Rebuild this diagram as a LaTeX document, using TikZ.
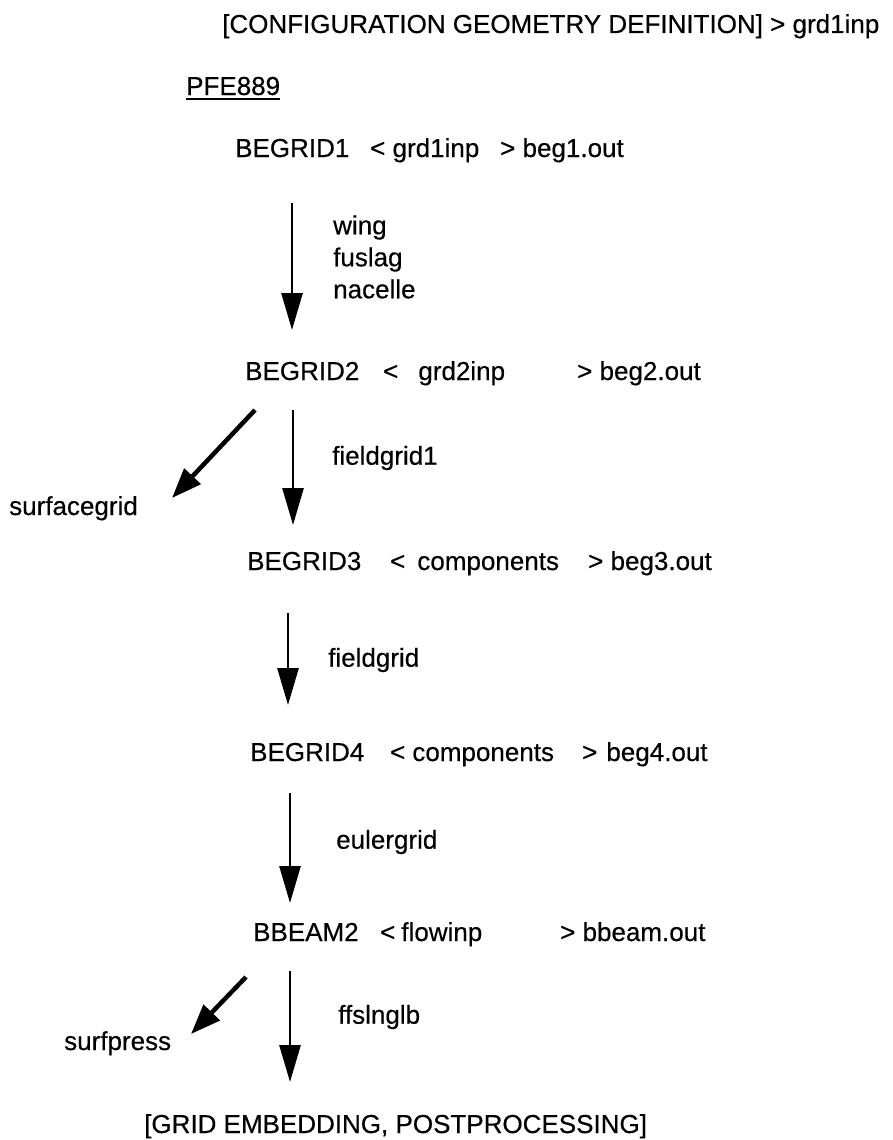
\documentclass[tikz,border=0pt]{standalone}
\usepackage{fontspec}
\setmainfont{Liberation Sans}
\newfontfamily\scanfont[FakeBold=0.4]{Liberation Sans}
\usetikzlibrary{arrows.meta,positioning,calc}

\tikzset{
  prog/.style={anchor=base west, inner sep=0pt, font=\scanfont\fontsize{26}{32}\selectfont},
  lbl/.style={anchor=west, inner sep=0pt, align=left, font=\scanfont\fontsize{26}{32}\selectfont},
  flow/.style={-{Triangle[length=37pt,width=21pt]}, line width=2.8pt},
  side/.style={-{Triangle[length=30pt,width=22pt]}, line width=4.5pt},
}

\begin{document}
\begin{tikzpicture}[x=1pt,y=-1pt]
  \useasboundingbox (0,0) rectangle (893,1140);

  %--- Header ---
  \node[prog] (conf) at (222,33) {[CONFIGURATION GEOMETRY DEFINITION] > grd1inp};
  \node[prog] (pfe) at (186,95) {PFE889};
  \draw[line width=2.6pt] ($(pfe.base west)+(0,4)$) -- ($(pfe.base east)+(0,4)$);

  %--- Step 1 ---
  \node[prog] (g1) at (235,157) {BEGRID1};
  \node[prog] (in1) at (370,157) {< grd1inp};
  \node[prog] (out1) at (500,157) {> beg1.out};

  %--- Step 2 ---
  \node[prog] (g2) at (245,380) {BEGRID2};
  \node[prog] (in2) at (383,380) {<\hspace{20pt}grd2inp};
  \node[prog] (out2) at (577,380) {> beg2.out};

  %--- Step 3 ---
  \node[prog] (g3) at (247,570) {BEGRID3};
  \node[prog] (in3) at (390,570) {<\hspace{12pt}components};
  \node[prog] (out3) at (588,570) {> beg3.out};

  %--- Step 4 ---
  \node[prog] (g4) at (250,761) {BEGRID4};
  \node[prog] (in4) at (390,761) {<\hspace{7pt}components};
  \node[prog] (out4) at (582,761) {>\hspace{9pt}beg4.out};

  %--- Step 5 ---
  \node[prog] (bb) at (253,941) {BBEAM2};
  \node[prog] (in5) at (380,941) {<\hspace{6pt}flowinp};
  \node[prog] (out5) at (560,941) {> bbeam.out};

  \node[prog] (post) at (144,1133) {[GRID EMBEDDING, POSTPROCESSING]};

  %--- Side outputs ---
  \node[prog] (sgrid) at (9,515) {surfacegrid};
  \node[prog] (spress) at (64,1050) {surfpress};

  %--- Arrow labels ---
  \node[lbl] (comp) at (333,257) {wing\\fuslag\\nacelle};
  \node[lbl] (fg1) at (332,458) {fieldgrid1};
  \node[lbl] (fg) at (328,660) {fieldgrid};
  \node[lbl] (eg) at (336,842) {eulergrid};
  \node[lbl] (ff) at (338,1017) {ffslnglb};

  %--- Flow ---
  \draw[flow] ($(g1.base west)+(57,46)$) -- ($(g2.base west)+(47,-50)$);
  \draw[flow] ($(g2.base west)+(48,30)$) -- ($(g3.base west)+(46,-45)$);
  \draw[flow] ($(g3.base west)+(41,43)$) -- ($(g4.base west)+(38,-56)$);
  \draw[flow] ($(g4.base west)+(40,32)$) -- ($(bb.base west)+(37,-38)$);
  \draw[flow] ($(bb.base west)+(37,30)$) -- ($(post.base west)+(146,-51)$);
  \draw[side] ($(g2.base west)+(10,30)$) -- ($(sgrid.base west)+(163,-17)$);
  \draw[side] ($(bb.base west)+(-7,36)$) -- ($(spress.base west)+(127,-16)$);
\end{tikzpicture}
\end{document}
